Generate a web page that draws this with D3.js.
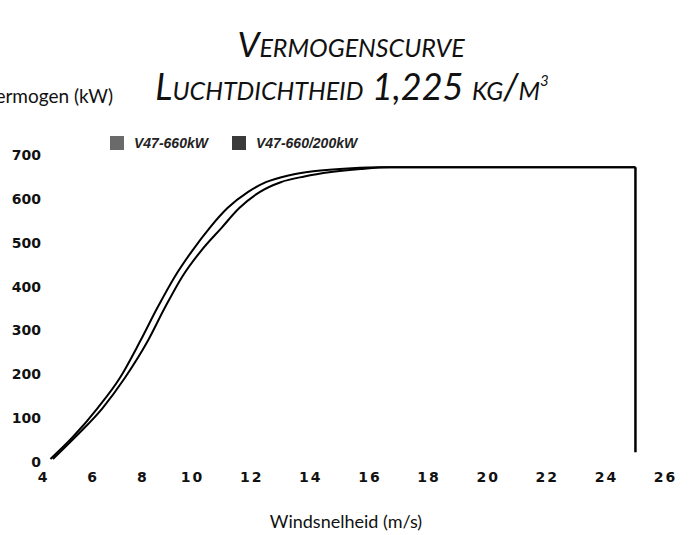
<!DOCTYPE html>
<html>
<head>
<meta charset="utf-8">
<script src="https://cdn.jsdelivr.net/npm/d3@7"></script>
<style>
  body { margin: 0; background: #fff; }
  svg { display: block; }
</style>
</head>
<body>
<svg id="chart"></svg>
<script>
var width = 693;
var height = 535;

// tick labels
var windTicks = [4, 6, 8, 10, 12, 14, 16, 18, 20, 22, 24, 26];
var powerTicks = [0, 100, 200, 300, 400, 500, 600, 700];

// series
var seriesNames = ["V47-660kW", "V47-660/200kW"];
var windA  = [4.3, 5.2, 6.2, 7.1, 7.9, 8.6, 9.3, 10.0, 10.6, 11.2, 11.9, 12.5, 13.3, 14.1, 15.4, 16.4, 25];
var powerA = [7, 57, 123, 192, 274, 351, 422, 481, 534, 579, 616, 638, 654, 663, 670, 672, 672];
var windB  = [4.4, 5.3, 6.4, 7.3, 8.2, 8.9, 9.6, 10.3, 11.0, 11.6, 12.3, 13.0, 13.8, 14.7, 15.7, 16.7, 25];
var powerB = [7, 57, 123, 192, 274, 351, 422, 481, 534, 579, 616, 638, 651, 661, 668, 672, 672];
// cut-out at 25 m/s
var cutWind  = [25, 25];
var cutPower = [672, 22];

var svg = d3.select("#chart").attr("width", width).attr("height", height);

// the scanned axis is a bit squeezed on the left, so a two-piece scale
var x = d3.scaleLinear().domain([4, 10, 26]).range([43, 192, 665]);
var y = d3.scaleLinear().domain([0, 700]).range([462, 155]);

// titles
var title = svg.append("g")
  .attr("font-family", "Lato, 'Open Sans', sans-serif")
  .attr("font-style", "italic")
  .attr("font-weight", 400)
  .style("font-variant", "small-caps")
  .attr("fill", "#111");

title.append("text")
  .attr("x", 351).attr("y", 57)
  .attr("text-anchor", "middle")
  .attr("font-size", 35)
  .text("Vermogenscurve");

var t2 = title.append("text")
  .attr("x", 352).attr("y", 100)
  .attr("text-anchor", "middle")
  .attr("font-size", 36);
t2.append("tspan").text("Luchtdichtheid 1,225 kg/m");
t2.append("tspan").attr("dy", -14).attr("font-size", 15).text("3");

// y axis title, cut off by the page edge like the scan
svg.append("text")
  .attr("x", 113).attr("y", 103)
  .attr("text-anchor", "end")
  .attr("font-family", "Lato, 'Open Sans', sans-serif")
  .attr("font-size", 19)
  .attr("fill", "#111")
  .text("Vermogen (kW)");

// legend
var legendX = [110, 232];
var legendFill = ["#6a6a6a", "#3a3a3a"];
var legend = svg.append("g").selectAll("g")
  .data(seriesNames)
  .join("g")
  .attr("transform", (d, i) => `translate(${legendX[i]},136)`);
legend.append("rect")
  .attr("width", 14).attr("height", 14)
  .attr("fill", (d, i) => legendFill[i]);
legend.append("text")
  .attr("x", 24).attr("y", 12)
  .attr("font-family", "'Liberation Sans Narrow', 'Liberation Sans', sans-serif")
  .attr("font-style", "italic")
  .attr("font-weight", "bold")
  .attr("font-size", 14)
  .attr("fill", "#222")
  .text(d => d);

// axes (labels only)
var yAxis = svg.append("g")
  .attr("transform", "translate(41,0)")
  .call(d3.axisLeft(y).tickValues(powerTicks).tickSize(0).tickPadding(0));
var xAxis = svg.append("g")
  .attr("transform", "translate(0,463)")
  .call(d3.axisBottom(x).tickValues(windTicks).tickSize(0).tickPadding(9));

[yAxis, xAxis].forEach(function (ax) {
  ax.select(".domain").remove();
  ax.selectAll("text")
    .attr("font-family", "'DejaVu Sans', sans-serif")
    .attr("font-weight", "bold")
    .attr("font-size", 14)
    .attr("fill", "#111");
});
xAxis.selectAll("text").attr("letter-spacing", 2);

svg.append("text")
  .attr("x", 346).attr("y", 528)
  .attr("text-anchor", "middle")
  .attr("font-family", "Lato, 'Open Sans', sans-serif")
  .attr("font-size", 18)
  .attr("fill", "#111")
  .text("Windsnelheid (m/s)");

// curves
var line = d3.line()
  .x(d => x(d[0]))
  .y(d => y(d[1]))
  .curve(d3.curveMonotoneX);

var curves = [d3.zip(windA, powerA), d3.zip(windB, powerB)];

svg.append("g")
  .attr("fill", "none")
  .attr("stroke", "#000")
  .attr("stroke-width", 2)
  .selectAll("path")
  .data(curves)
  .join("path")
  .attr("d", line);

svg.append("path")
  .attr("fill", "none")
  .attr("stroke", "#000")
  .attr("stroke-width", 2.5)
  .attr("d", d3.line().x(d => x(d[0])).y(d => y(d[1]))(d3.zip(cutWind, cutPower)));
</script>
</body>
</html>
